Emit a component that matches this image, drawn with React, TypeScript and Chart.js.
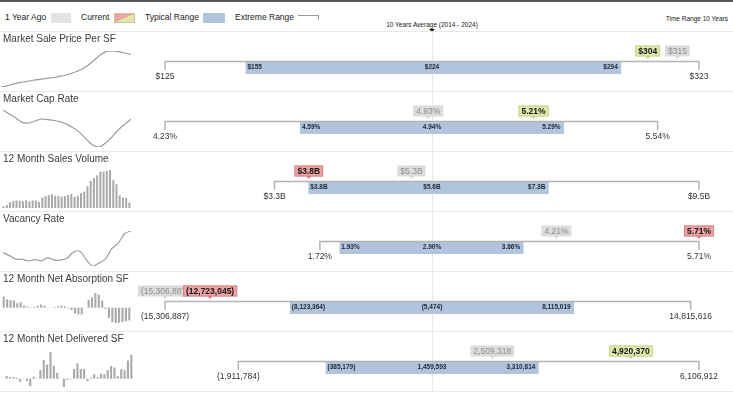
import React, { useEffect, useRef } from "react";
import { Chart, registerables } from "chart.js";

Chart.register(...registerables);

// ---------------- DATA ----------------
const metricTitles = [
  "Market Sale Price Per SF",
  "Market Cap Rate",
  "12 Month Sales Volume",
  "Vacancy Rate",
  "12 Month Net Absorption SF",
  "12 Month Net Delivered SF",
];
const valueFormats = ["dollar", "percent", "billions", "percent", "sf", "sf"];
const extremeMin = [125, 4.23, 3.3, 1.72, -15306887, -1911784];
const extremeMax = [323, 5.54, 9.5, 5.71, 14815616, 6106912];
const typicalLow = [155, 4.59, 3.8, 1.93, -8123364, -385179];
const tenYearAverage = [224, 4.94, 5.6, 2.9, -5474, 1459593];
const typicalHigh = [294, 5.29, 7.3, 3.86, 8115019, 3310814];
const currentValues = [304, 5.21, 3.8, 5.71, -12723045, 4920370];
const yearAgoValues = [315, 4.93, 5.3, 4.21, -15306887, 2509318];
const currentTone = ["good", "good", "bad", "bad", "bad", "good"];

const salePriceHistory = [125, 133, 142, 150, 156, 162, 167, 172, 177, 183, 191, 202, 216, 235, 262, 293, 317, 323, 320, 312, 304];
const capRateHistory = [5.54, 5.4, 5.26, 5.1, 5.08, 5.15, 5.22, 5.2, 5.17, 5.12, 5.03, 4.9, 4.74, 4.51, 4.3, 4.23, 4.37, 4.58, 4.83, 5.03, 5.21];
const salesVolumeHistory = [110, 198, 374, 462, 484, 462, 440, 506, 418, 484, 484, 396, 682, 770, 836, 880, 792, 770, 726, 770, 836, 902, 726, 792, 968, 1056, 1408, 1760, 1936, 2112, 2354, 2354, 2398, 2464, 1804, 1540, 814, 682, 660, 352];
const vacancyHistory = [3.25, 2.9, 2.5, 2.48, 2.3, 2.45, 2.3, 2.65, 2.38, 2.4, 2.6, 3.3, 3.4, 2.45, 1.72, 2.05, 2.5, 3.7, 4.3, 5.4, 5.71];
const netAbsorptionHistory = [10.9, 8.2, 7.5, 7.1, 4.4, 5.4, 2.0, 1.0, 0.3, 0.7, 2.0, 3.1, 2.0, 0.3, 0.1, 0.7, 1.4, 2.0, 1.4, -0.7, -2.4, -5.8, -6.8, -6.8, 0.3, 7.8, 10.2, 14.6, 12.9, 7.1, -1.4, -10.2, -14.3, -15.31, -15.0, -14.3, -13.6, -12.72];
const netDeliveredHistory = [0.63, 0.39, 0.39, 0.23, -0.7, 0.08, -0.55, -1.72, 0.47, 0.08, 1.96, 4.31, 3.21, 6.11, 2.98, 1.33, 0.08, -1.91, -0.31, -0.16, 2.19, 3.52, 2.19, 2.19, -0.55, 0.23, 1.02, 0.39, 1.17, 1.02, 1.96, 2.9, 2.58, 0.55, 2.19, 1.96, 4.15, 5.48];

const sparkSeries = [salePriceHistory, capRateHistory, salesVolumeHistory, vacancyHistory, netAbsorptionHistory, netDeliveredHistory];
const sparkKinds = ["line", "line", "bar", "line", "bar", "bar"];

const legendLabels = ["1 Year Ago", "Current", "Typical Range", "Extreme Range"];
const averageCaption = "10 Years Average (2014 - 2024)";
const timeRangeCaption = "Time Range 10 Years";

// ---------------- STYLE ----------------
const FONT = '"Liberation Sans", Arial, Helvetica, sans-serif';
const ROW_TOP = 31;
const ROW_H = 60;
const sparkPadding = [
  { left: 1, right: 3, top: 3, bottom: 3 },
  { left: 3, right: 3, top: 2, bottom: 3 },
  { left: 2, right: 3, top: 2, bottom: 2 },
  { left: 3, right: 3, top: 3, bottom: 4 },
  { left: 2, right: 3, top: 5, bottom: 7 },
  { left: 5, right: 1, top: 4, bottom: 3 },
];

Chart.defaults.font.family = FONT;

function formatValue(v: number, kind: string): string {
  if (kind === "dollar") return "$" + Math.round(v);
  if (kind === "percent") return v.toFixed(2) + "%";
  if (kind === "billions") return "$" + v.toFixed(1) + "B";
  const s = Math.abs(Math.round(v)).toLocaleString("en-US");
  return v < 0 ? "(" + s + ")" : s;
}

function drawMarker(ctx: CanvasRenderingContext2D, cx: number, top: number, text: string, fill: string, stroke: string | null, color: string, bold: boolean) {
  ctx.save();
  ctx.font = (bold ? "bold " : "") + "8.5px " + FONT;
  const w = ctx.measureText(text).width + 6;
  const h = 11;
  const by = top - 15.5;
  const bx = cx - w / 2;
  ctx.fillStyle = fill;
  ctx.beginPath();
  ctx.rect(bx, by, w, h);
  ctx.fill();
  if (stroke) {
    ctx.strokeStyle = stroke;
    ctx.lineWidth = 1;
    ctx.strokeRect(bx + 0.5, by + 0.5, w - 1, h - 1);
  }
  ctx.beginPath();
  ctx.moveTo(cx - 3, by + h - 0.5);
  ctx.lineTo(cx + 3, by + h - 0.5);
  ctx.lineTo(cx, by + h + 2.5);
  ctx.closePath();
  ctx.fillStyle = stroke || fill;
  ctx.fill();
  ctx.fillStyle = color;
  ctx.textAlign = "center";
  ctx.textBaseline = "middle";
  ctx.fillText(text, cx, by + h / 2 + 0.5);
  ctx.restore();
}

function RangeRow({ index }: { index: number }) {
  const ref = useRef<HTMLCanvasElement>(null);
  useEffect(() => {
    const lo = extremeMin[index];
    const hi = extremeMax[index];
    const avg = tenYearAverage[index];
    const span = Math.max(avg - lo, hi - avg);
    const kind = valueFormats[index];
    const fmt = (v: number) => formatValue(v, kind);

    const decor = {
      id: "rangeDecor",
      beforeDatasetsDraw(chart: any) {
        const { ctx } = chart;
        const x = chart.scales.x;
        const ax = Math.round(x.getPixelForValue(avg)) + 0.5;
        ctx.save();
        ctx.strokeStyle = "#e6e6e6";
        ctx.lineWidth = 1;
        ctx.beginPath();
        ctx.moveTo(ax, 0);
        ctx.lineTo(ax, chart.height);
        ctx.stroke();
        ctx.restore();
      },
      afterDatasetsDraw(chart: any) {
        const { ctx, chartArea } = chart;
        const x = chart.scales.x;
        const top = chartArea.top;
        const xMin = x.getPixelForValue(lo);
        const xMax = x.getPixelForValue(hi);
        const xAvg = x.getPixelForValue(avg);
        const xLo = x.getPixelForValue(typicalLow[index]);
        const xHi = x.getPixelForValue(typicalHigh[index]);

        ctx.save();
        // extreme range bracket
        ctx.strokeStyle = "#b4b4b4";
        ctx.lineWidth = 1.5;
        ctx.beginPath();
        ctx.moveTo(xMin, top + 9);
        ctx.lineTo(xMin, top + 0.5);
        ctx.lineTo(xMax, top + 0.5);
        ctx.lineTo(xMax, top + 9);
        ctx.stroke();

        // extreme labels
        ctx.fillStyle = "#333";
        ctx.font = "8.5px " + FONT;
        ctx.textAlign = "center";
        ctx.textBaseline = "middle";
        ctx.fillText(fmt(lo), xMin, top + 15.5);
        ctx.fillText(fmt(hi), xMax, top + 15.5);

        // typical range labels
        ctx.fillStyle = "#1c2533";
        ctx.font = "bold 6.5px " + FONT;
        ctx.textAlign = "left";
        ctx.fillText(fmt(typicalLow[index]), xLo + 1.5, top + 6);
        ctx.textAlign = "center";
        ctx.fillText(fmt(avg), xAvg, top + 6);
        ctx.textAlign = "right";
        ctx.fillText(fmt(typicalHigh[index]), xHi - 3, top + 6);
        ctx.restore();

        // markers
        drawMarker(ctx, x.getPixelForValue(yearAgoValues[index]), top, fmt(yearAgoValues[index]), "#dcdcdc", null, "#8e8e8e", false);
        const good = currentTone[index] === "good";
        drawMarker(
          ctx,
          x.getPixelForValue(currentValues[index]),
          top,
          fmt(currentValues[index]),
          good ? "#dfe9ae" : "#eba3a4",
          good ? "#c6d48a" : "#d98486",
          "#151515",
          true
        );
      },
    };

    const chart = new Chart(ref.current as HTMLCanvasElement, {
      type: "bar",
      data: {
        labels: [metricTitles[index]],
        datasets: [
          {
            data: [[typicalLow[index], typicalHigh[index]]] as any,
            backgroundColor: "#b0c4de",
            borderWidth: 0,
            barPercentage: 1,
            categoryPercentage: 1,
          },
        ],
      },
      options: {
        indexAxis: "y",
        responsive: false,
        animation: false,
        events: [],
        layout: { padding: { left: 165, right: 34, top: 30, bottom: 17 } },
        scales: {
          x: { type: "linear", min: avg - span, max: avg + span, bounds: "data", display: false },
          y: { type: "category", display: false },
        },
        plugins: { legend: { display: false }, tooltip: { enabled: false } },
      },
      plugins: [decor],
    } as any);
    return () => chart.destroy();
  }, [index]);
  return (
    <canvas
      ref={ref}
      width={733}
      height={ROW_H}
      style={{ position: "absolute", left: 0, top: 0, width: 733, height: ROW_H }}
    />
  );
}

function Sparkline({ index }: { index: number }) {
  const ref = useRef<HTMLCanvasElement>(null);
  useEffect(() => {
    const series = sparkSeries[index];
    const kind = sparkKinds[index];
    const lo = Math.min(...series);
    const hi = Math.max(...series);
    const chart = new Chart(ref.current as HTMLCanvasElement, {
      type: kind as any,
      data: {
        labels: series.map((_, i) => String(i)),
        datasets: [
          {
            data: series,
            borderColor: "#9c9c9c",
            backgroundColor: "#a9a9a9",
            borderWidth: kind === "line" ? 1.2 : 0,
            pointRadius: 0,
            tension: 0.35,
            barPercentage: 0.62,
            categoryPercentage: 1,
          },
        ],
      },
      options: {
        responsive: false,
        animation: false,
        events: [],
        layout: { padding: sparkPadding[index] },
        scales: {
          x: { display: false, offset: kind === "bar" },
          y: { display: false, min: kind === "bar" ? Math.min(0, lo) : lo, max: hi, bounds: "data" },
        },
        plugins: { legend: { display: false }, tooltip: { enabled: false } },
      },
    } as any);
    return () => chart.destroy();
  }, [index]);
  return (
    <canvas
      ref={ref}
      width={134}
      height={42}
      style={{ position: "absolute", left: 0, top: 17, width: 134, height: 42 }}
    />
  );
}

const textBase: React.CSSProperties = {
  position: "absolute",
  fontFamily: FONT,
  whiteSpace: "nowrap",
  color: "#222",
};

export default function App() {
  return (
    <div
      style={{
        position: "absolute",
        left: 0,
        top: 0,
        width: 733,
        height: 397,
        background: "#fff",
        overflow: "hidden",
      }}
    >
      <div style={{ position: "absolute", left: 0, top: 0, width: 733, height: 2, background: "#555" }} />

      {/* legend */}
      <div style={{ ...textBase, left: 5, top: 12, fontSize: 8.5, lineHeight: "10px" }}>{legendLabels[0]}</div>
      <div style={{ position: "absolute", left: 51, top: 12.5, width: 20, height: 10, background: "#e3e3e3" }} />
      <div style={{ ...textBase, left: 81, top: 12, fontSize: 8.5, lineHeight: "10px" }}>{legendLabels[1]}</div>
      <div
        style={{
          position: "absolute",
          left: 114,
          top: 12.5,
          width: 21,
          height: 10,
          boxSizing: "border-box",
          border: "1px solid #cfc08f",
          background: "linear-gradient(to bottom right, #eba3a4 50%, #dfe9ae 50%)",
        }}
      />
      <div style={{ ...textBase, left: 145, top: 12, fontSize: 8.5, lineHeight: "10px" }}>{legendLabels[2]}</div>
      <div style={{ position: "absolute", left: 203, top: 12.5, width: 22, height: 10, background: "#b0c4de" }} />
      <div style={{ ...textBase, left: 235, top: 12, fontSize: 8.5, lineHeight: "10px" }}>{legendLabels[3]}</div>
      <div
        style={{
          position: "absolute",
          left: 298,
          top: 15,
          width: 20,
          height: 4,
          borderTop: "1px solid #999",
          borderRight: "1px solid #999",
        }}
      />

      <div
        style={{
          ...textBase,
          left: 432,
          top: 20,
          fontSize: 6.5,
          lineHeight: "10px",
          transform: "translateX(-50%)",
        }}
      >
        {averageCaption}
      </div>
      <div
        style={{
          position: "absolute",
          left: 429,
          top: 28.5,
          width: 0,
          height: 0,
          borderLeft: "3px solid transparent",
          borderRight: "3px solid transparent",
          borderTop: "3px solid #111",
        }}
      />
      <div style={{ ...textBase, right: 5, top: 14, fontSize: 6.5, lineHeight: "10px" }}>{timeRangeCaption}</div>

      {metricTitles.map((title, i) => (
        <div
          key={title}
          style={{
            position: "absolute",
            left: 0,
            top: ROW_TOP + i * ROW_H,
            width: 733,
            height: ROW_H,
          }}
        >
          <div style={{ position: "absolute", left: 0, top: 0, width: 733, height: 1, background: "#e9e9e9" }} />
          <RangeRow index={i} />
          <Sparkline index={i} />
          <div style={{ ...textBase, left: 3, top: 1, fontSize: 10, lineHeight: "13px", color: "#3c3c3c" }}>{title}</div>
        </div>
      ))}
      <div style={{ position: "absolute", left: 0, top: ROW_TOP + 6 * ROW_H, width: 733, height: 1, background: "#e9e9e9" }} />
    </div>
  );
}
